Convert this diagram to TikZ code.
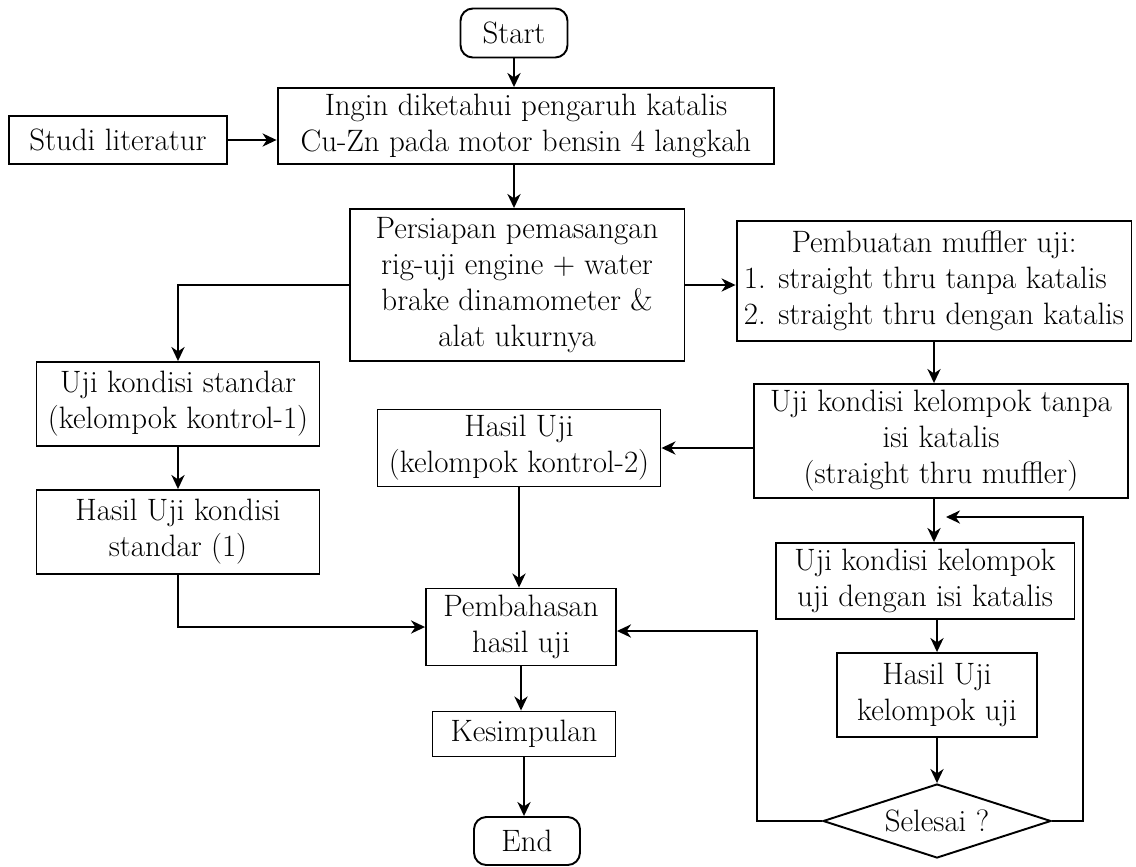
\documentclass[tikz,border=0pt]{standalone}
\usepackage{tikz}
\usetikzlibrary{shapes.geometric, arrows.meta}

\begin{document}
\begin{tikzpicture}[
      x=0.02cm, y=-0.02cm,
      font=\fontsize{17.6}{20.5}\selectfont,
      box/.style={draw, line width=1.1pt, inner sep=2pt, align=center},
      term/.style={box, rounded corners=7pt},
      decision/.style={draw, line width=1.1pt, diamond, aspect=3.1, inner sep=1pt},
      arrow/.style={-{Stealth[length=8pt, width=7.5pt, inset=2.5pt]}, line width=1.1pt},
  ]
    \useasboundingbox (0,0) rectangle (1136,866);

    % main column
    \node[term, minimum width=2.14cm, minimum height=0.98cm] (start) at (514,33) {Start};
    \node[box, minimum width=9.94cm, minimum height=1.52cm] (ingin) at (526,126)
        {Ingin diketahui pengaruh katalis\\Cu-Zn pada motor bensin 4 langkah};
    \node[box, minimum width=4.36cm, minimum height=0.96cm] (studi) at (118,140) {Studi literatur};
    \node[box, minimum width=6.7cm, minimum height=3.04cm] (persiapan) at (517,285)
        {Persiapan pemasangan\\rig-uji engine + water\\brake dinamometer \&\\alat ukurnya};

    % right branch
    \node[box, minimum width=7.9cm, minimum height=2.4cm, inner sep=0pt] (pembuatan) at (934,281)
        {\begin{tabular}{@{}l@{}}\multicolumn{1}{@{}c@{}}{Pembuatan muffler uji:}\\
         1. straight thru tanpa katalis\\2. straight thru dengan katalis\end{tabular}};
    \node[box, minimum width=7.48cm, minimum height=2.28cm] (tanpa) at (941,441)
        {Uji kondisi kelompok tanpa\\isi katalis\\(straight thru muffler)};
    \node[box, minimum width=5.98cm, minimum height=1.52cm] (dengan) at (925,581)
        {Uji kondisi kelompok\\uji dengan isi katalis};
    \node[box, minimum width=4cm, minimum height=1.68cm] (hasiluji) at (937,695)
        {Hasil Uji\\kelompok uji};
    \node[decision, minimum width=4.56cm, minimum height=1.48cm] (selesai) at (937,821) {Selesai ?};

    % left branch
    \node[box, minimum width=5.66cm, minimum height=1.68cm] (standar) at (178,404)
        {Uji kondisi standar\\(kelompok kontrol-1)};
    \node[box, minimum width=5.66cm, minimum height=1.68cm] (hasil1) at (178,532)
        {Hasil Uji kondisi\\standar (1)};
    \node[box, minimum width=5.66cm, minimum height=1.54cm] (kontrol2) at (519,448)
        {Hasil Uji\\(kelompok kontrol-2)};

    % end
    \node[box, minimum width=3.8cm, minimum height=1.54cm] (pembahasan) at (521,627)
        {Pembahasan\\hasil uji};
    \node[box, minimum width=3.66cm, minimum height=0.9cm] (kesimpulan) at (524,734) {Kesimpulan};
    \node[term, minimum width=2.12cm, minimum height=0.96cm] (end) at (527,841) {End};

    \coordinate (loopR) at (1083,517);
    \coordinate (rejoin) at (946,517);
    \coordinate (loopL) at (757,631);

    \draw[arrow] (start) -- (start.south |- ingin.north);
    \draw[arrow] (studi.east) -- (studi.east -| ingin.west);
    \draw[arrow] (start.south |- ingin.south) -- (start.south |- persiapan.north);
    \draw[arrow] (persiapan.west) -| (standar.north);
    \draw[arrow] (persiapan.east) -- (persiapan.east -| pembuatan.west);
    \draw[arrow] (pembuatan.south) -- (pembuatan.south |- tanpa.north);
    \draw[arrow] (kontrol2.east -| tanpa.west) -- (kontrol2.east);
    \draw[arrow] (kontrol2.south) -- (kontrol2.south |- pembahasan.north);
    \draw[arrow] (standar) -- (hasil1);
    \draw[arrow] (hasil1.south) |- (pembahasan.west);
    \draw[arrow] (pembahasan.south) -- (pembahasan.south |- kesimpulan.north);
    \draw[arrow] (kesimpulan.south) -- (kesimpulan.south |- end.north);
    \draw[arrow] (pembuatan.south |- tanpa.south) -- (pembuatan.south |- dengan.north);
    \draw[arrow] (hasiluji.north |- dengan.south) -- (hasiluji.north);
    \draw[arrow] (hasiluji) -- (selesai);
    \draw[arrow] (selesai.east) -| (loopR) -- (rejoin);
    \draw[arrow] (selesai.west) -| (loopL) -- (loopL -| pembahasan.east);

  \end{tikzpicture}
\end{document}
